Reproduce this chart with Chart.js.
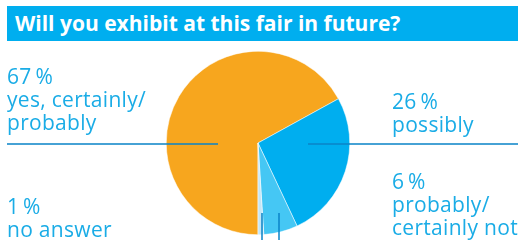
<!DOCTYPE html>
<html>
<head>
<meta charset="utf-8">
<script src="https://cdn.jsdelivr.net/npm/chart.js@4/dist/chart.umd.min.js"></script>
<style>
    html, body { margin: 0; padding: 0; background: #fff; }
    #wrap { position: relative; width: 518px; height: 240px; overflow: hidden; font-family: "Open Sans", sans-serif; }
    #title {
        position: absolute; left: 7px; top: 6px; width: 511px; height: 35px;
        background: #00aeef; color: #fff; font-weight: bold; font-size: 21px;
        line-height: 35px; padding-left: 8px; box-sizing: border-box;
    }
    canvas { position: absolute; left: 0; top: 0; }
    .lbl { position: absolute; color: #1aace6; font-size: 21px; letter-spacing: 0.3px; line-height: 23px; white-space: nowrap; }
</style>
</head>
<body>
<div id="wrap">
    <canvas id="pie" width="518" height="240"></canvas>
    <div id="title">Will you exhibit at this fair in future?</div>
    <div class="lbl" style="left:7px; top:65px;">67&#8201;%<br>yes, certainly/<br>probably</div>
    <div class="lbl" style="left:392px; top:90px;">26&#8201;%<br>possibly</div>
    <div class="lbl" style="left:7px; top:195px;">1&#8201;%<br>no answer</div>
    <div class="lbl" style="left:392px; top:170px;">6&#8201;%<br>probably/<br>certainly not</div>
</div>
<script>
const categories = ['yes, certainly/probably', 'possibly', 'probably/certainly not', 'no answer'];
const shares = [67, 26, 6, 1];
const colors = ['#f7a61e', '#00aeef', '#45c7f4', '#c4e6f6'];

// leader lines from the labels into the slices
const leaders = {
    id: 'leaders',
    afterDatasetsDraw(chart) {
        const ctx = chart.ctx;
        ctx.save();
        ctx.strokeStyle = '#0a84c8';
        ctx.lineWidth = 1.5;
        ctx.beginPath();
        ctx.moveTo(7, 144); ctx.lineTo(218, 144);
        ctx.moveTo(308, 144); ctx.lineTo(518, 144);
        ctx.moveTo(262, 213); ctx.lineTo(262, 240);
        ctx.moveTo(279, 213); ctx.lineTo(279, 240);
        ctx.stroke();
        ctx.restore();
    }
};

new Chart(document.getElementById('pie'), {
    type: 'pie',
    data: {
        labels: categories,
        datasets: [{
            data: shares,
            backgroundColor: colors,
            borderColor: '#ffffff',
            borderWidth: 0.5,
        }],
    },
    options: {
        responsive: false,
        animation: false,
        rotation: 180,
        layout: { padding: { top: 51, bottom: 5, left: 166, right: 168 } },
        plugins: {
            legend: { display: false },
            tooltip: { enabled: false },
        },
    },
    plugins: [leaders],
});
</script>
</body>
</html>
